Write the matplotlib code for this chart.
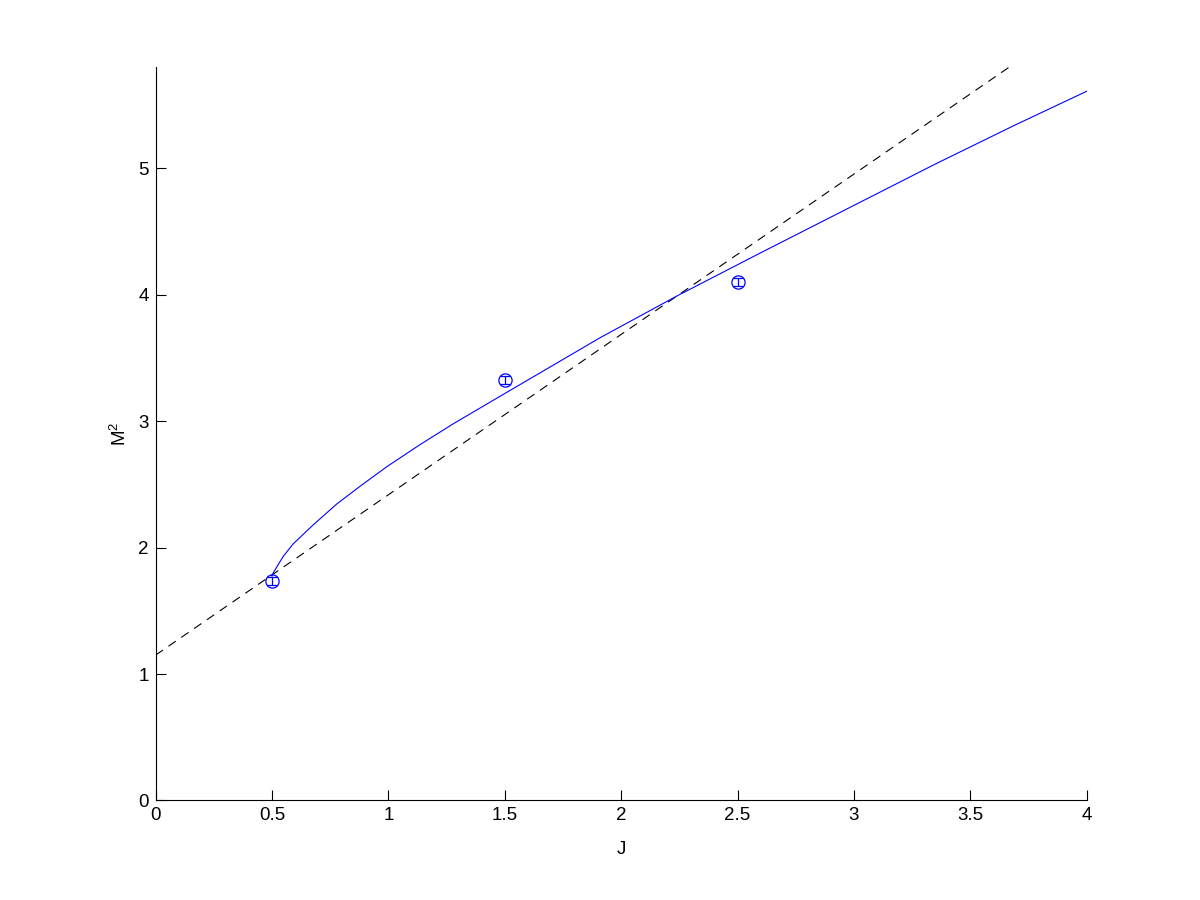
import matplotlib
matplotlib.use("Agg")
import matplotlib.pyplot as plt

# measured points with errors
j_pts = [0.5, 1.5, 2.5]
m2_pts = [1.735, 3.326, 4.10]
m2_err = [0.03, 0.03, 0.03]

# solid blue fit curve
j_fit = [0.5, 0.505, 0.548, 0.591, 0.677, 0.778, 0.878, 0.993, 1.136, 1.279,
         1.436, 1.909, 2.239, 2.597, 2.987, 3.345, 3.689, 4.0]
m2_fit = [1.775, 1.80, 1.93, 2.03, 2.18, 2.345, 2.485, 2.64, 2.815, 2.98,
          3.15, 3.66, 3.99, 4.33, 4.695, 5.03, 5.34, 5.61]

# dashed straight line (endpoints)
j_line = [0.0, 3.664]
m2_line = [1.15, 5.797]

x_ticks = [0, 0.5, 1, 1.5, 2, 2.5, 3, 3.5, 4]
x_ticklabels = ['0', '0.5', '1', '1.5', '2', '2.5', '3', '3.5', '4']
y_ticks = [0, 1, 2, 3, 4, 5]

plt.rcParams['font.family'] = ['Liberation Sans', 'DejaVu Sans']
plt.rcParams['mathtext.fontset'] = 'custom'
plt.rcParams['mathtext.rm'] = 'Liberation Sans'
plt.rcParams['mathtext.it'] = 'Liberation Sans'

fig = plt.figure(figsize=(12, 9), dpi=100)
ax = fig.add_axes([0.1297, 0.1106, 0.7759, 0.8147])

ax.plot(j_line, m2_line, color='black', lw=0.8, ls=(0, (8, 6)))
ax.plot(j_fit, m2_fit, color='#0000ff', lw=0.8)
ax.errorbar(j_pts, m2_pts, yerr=m2_err, fmt='o', color='#0000ff',
            mfc='none', mec='#0000ff', ms=9.5, mew=0.9,
            elinewidth=0.9, capsize=3.3, capthick=0.9)

ax.set_xlim(0, 4)
ax.set_ylim(0, 5.8)
ax.set_xticks(x_ticks)
ax.set_xticklabels(x_ticklabels)
ax.set_yticks(y_ticks)
ax.tick_params(direction='in', length=7.5, width=0.8, labelsize=13.5,
               pad=5, colors='black')
for side in ['top', 'right']:
    ax.spines[side].set_visible(False)
for side in ['left', 'bottom']:
    ax.spines[side].set_linewidth(0.8)

ax.set_xlabel('J', fontsize=13.5, labelpad=12)
ax.set_ylabel(r'M$^\mathregular{2}$', fontsize=13.5, labelpad=6)

fig.savefig('out.png', dpi=100, facecolor='white')
